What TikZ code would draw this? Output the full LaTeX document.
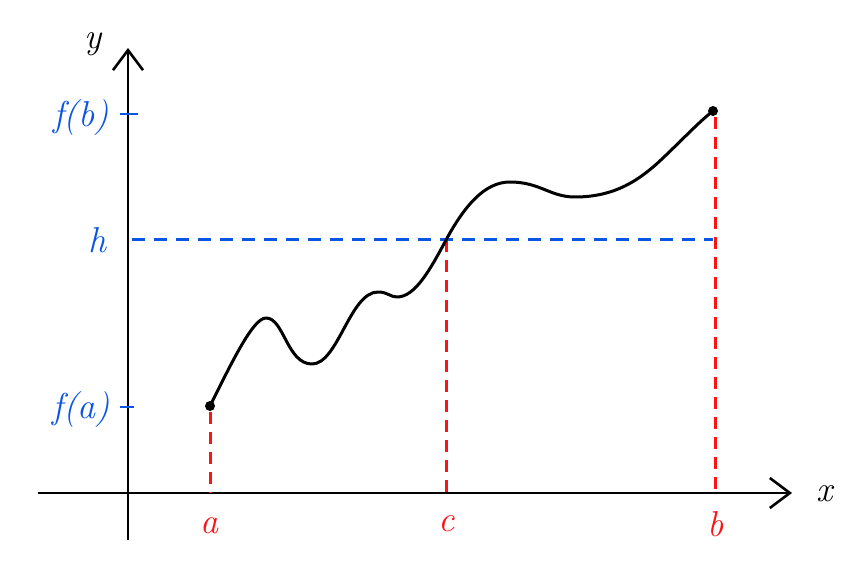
\documentclass[tikz,border=0pt]{standalone}
\usepackage{fontspec}
\usetikzlibrary{arrows.meta}
\definecolor{myblue}{RGB}{10,85,225}
\definecolor{myred}{RGB}{250,20,20}
\tikzset{
  axis/.style={line width=2.6pt, -{Straight Barb[length=20pt,width=30pt,line width=2.6pt]}},
  curve/.style={line width=3pt, line join=round, line cap=round},
  reddash/.style={myred, line width=3pt, dash pattern=on 12pt off 8pt},
  bluedash/.style={myblue, line width=3pt, dash pattern=on 13pt off 9pt},
  tick/.style={myblue, line width=2.8pt},
  dot/.style={circle, fill=black, inner sep=0pt, minimum size=10pt},
  lab/.style={font=\fontsize{36}{40}\selectfont\itshape, inner sep=0pt},
  bl/.style={lab, text=myblue},
  rl/.style={lab, text=myred}
}
\begin{document}
\begin{tikzpicture}[x=1pt,y=-1pt]
\useasboundingbox (0,0) rectangle (865,572);
% axes
\coordinate (xs) at (38,493);
\coordinate (xe) at (792,493);
\coordinate (ys) at (128,540);
\coordinate (ye) at (128,48);
\draw[axis] (xs) -- (xe);
\draw[axis] (ys) -- (ye);
\node[lab] (xl) at (825,494) {x};
\node[lab] (yl) at (93,44) {y};
% ticks
\coordinate (tb1) at (120,114); \coordinate (tb2) at (138,114);
\coordinate (ta1) at (120,407); \coordinate (ta2) at (134,407);
\draw[tick] (tb1) -- (tb2);
\draw[tick] (ta1) -- (ta2);
\node[bl] (fb) at (81,118) {f(b)};
\node[bl] (fa) at (81,410) {f(a)};
\node[bl] (hl) at (97,240) {h};
% points
\node[dot] (pa) at (210,406) {};
\node[dot] (pb) at (713,111) {};
\coordinate (pc) at (446,240);
\coordinate (xa) at (210,493);
\coordinate (xb) at (715,493);
\coordinate (xc) at (446,493);
\coordinate (h0) at (132,240);
\coordinate (h1) at (713,240);
% dashed lines
\draw[bluedash] (h0) -- (h1);
\draw[reddash] (pa.center) ++(0,6) -- (xa);
\draw[reddash] (pb.center) ++(2,6) -- (xb);
\draw[reddash] (pc) -- (xc);
\node[rl] (la) at (209,526) {a};
\node[rl] (lc) at (447,524) {c};
\node[rl] (lb) at (716,524) {b};
% curve
\draw[curve] (pa.center)
  .. controls (232,362) and (253,318) .. (266,318)
  .. controls (284,318) and (287,364) .. (312,364)
  .. controls (338,364) and (350,292) .. (378,292)
  .. controls (388,292) and (390,297) .. (397,297)
  .. controls (415,297) and (430,270) .. (pc)
  .. controls (465,205) and (485,182) .. (510,182)
  .. controls (540,182) and (550,197) .. (575,197)
  .. controls (615,197) and (640,180) .. (663,158)
  .. controls (684,138) and (700,121) .. (pb.center);
\end{tikzpicture}
\end{document}
